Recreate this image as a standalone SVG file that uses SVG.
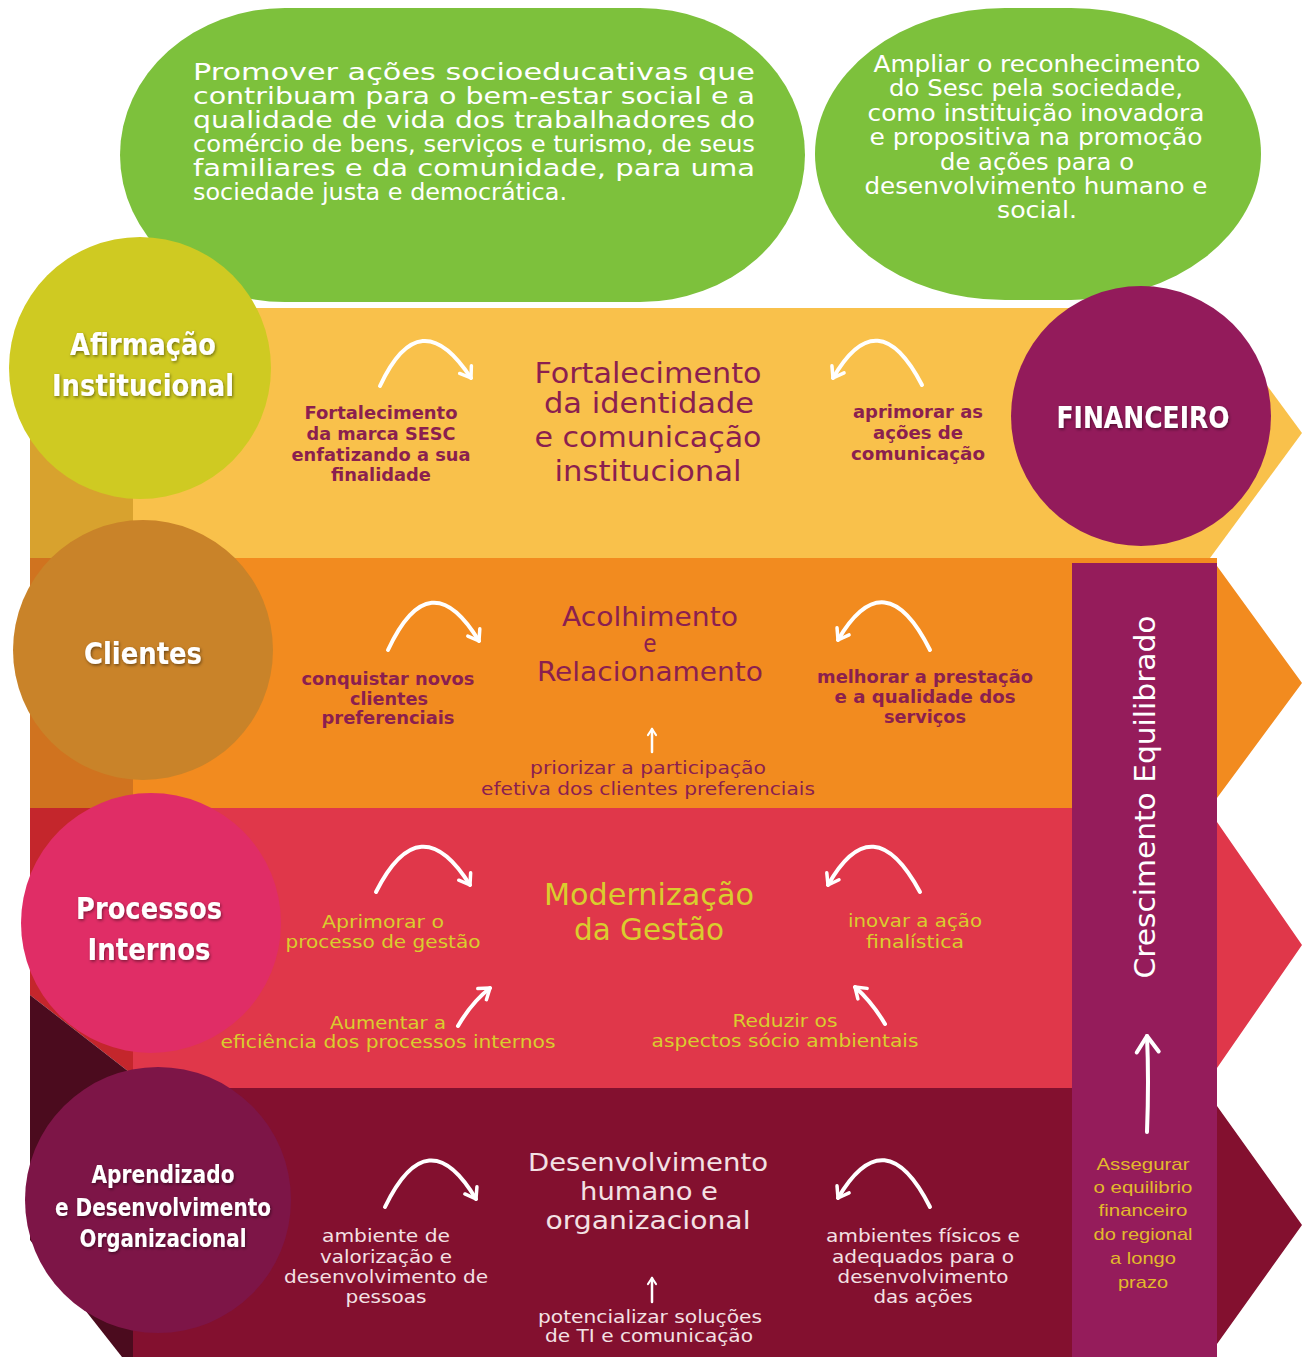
<svg xmlns="http://www.w3.org/2000/svg" width="1309" height="1357" viewBox="0 0 1309 1357">
<defs>
<style>
text{font-family:"DejaVu Sans Condensed","Liberation Sans Narrow",Roboto,"Liberation Sans",sans-serif;font-stretch:condensed}
.g{fill:#fff;font-size:23px}
.lbl{fill:#fff;font-weight:bold;font-size:30px}
.sy{fill:#8b1f4f;font-weight:bold;font-size:18px}
.ty{fill:#8b1f4f;font-size:28px}
.sr{fill:#d9cd2e;font-size:18px}
.tr{fill:#d9cd2e;font-size:30px}
.sd{fill:#f3e1e4;font-size:18px}
.td{fill:#f3e1e4;font-size:25px}
.arr{fill:none;stroke:#fff;stroke-width:4;stroke-linecap:round}
.arrs{fill:none;stroke:#fff;stroke-width:2.5;stroke-linecap:round}
</style>
<marker id="ah" viewBox="0 0 20 20" refX="14" refY="10" markerWidth="20" markerHeight="20" markerUnits="userSpaceOnUse" orient="auto"><path d="M4,3 L14,10 L4,17" fill="none" stroke="#fff" stroke-width="3.5" stroke-linecap="round" stroke-linejoin="round"/></marker>
<marker id="ahs" viewBox="0 0 12 12" refX="9" refY="6" markerWidth="12" markerHeight="12" markerUnits="userSpaceOnUse" orient="auto"><path d="M3,2 L9,6 L3,10" fill="none" stroke="#fff" stroke-width="2.2" stroke-linecap="round" stroke-linejoin="round"/></marker>
<marker id="ahb" viewBox="0 0 30 30" refX="22" refY="15" markerWidth="30" markerHeight="30" markerUnits="userSpaceOnUse" orient="auto"><path d="M6,4 L22,15 L6,26" fill="none" stroke="#fff" stroke-width="4" stroke-linecap="round" stroke-linejoin="round"/></marker>
<filter id="sh" x="-20%" y="-40%" width="140%" height="180%"><feDropShadow dx="1" dy="1.5" stdDeviation="1.5" flood-color="#000" flood-opacity="0.45"/></filter>
</defs>
<rect width="1309" height="1357" fill="#fff"/>

<g id="bands">
<polygon points="133,308 1210,308 1302,433 1210,558 133,558" fill="#f9c14b"/>
<polygon points="133,558 1217,558 1217,566 1302,683 1217,798 1217,808 133,808" fill="#f28b1f"/>
<polygon points="133,808 1217,808 1217,822 1302,945 1217,1068 1217,1088 133,1088" fill="#e0374a"/>
<polygon points="133,1088 1217,1088 1217,1106 1302,1225 1217,1344 1217,1357 133,1357" fill="#83102f"/>
<polygon points="30,308 133,308 133,558 30,558" fill="#d8a22e"/>
<polygon points="30,558 133,558 133,808 30,808" fill="#d0731f"/>
<polygon points="30,808 133,808 133,1075 30,995" fill="#c4262c"/>
<polygon points="30,995 133,1075 133,1357 122,1357 30,1240" fill="#4b0b1e"/>
</g>

<g id="mission">
<rect x="120" y="8" width="685" height="294" rx="165" ry="147" fill="#7dc13c"/>
<text class="g" x="193" y="80" textLength="562" lengthAdjust="spacingAndGlyphs">Promover ações socioeducativas que</text>
<text class="g" x="193" y="104" textLength="562" lengthAdjust="spacingAndGlyphs">contribuam para o bem-estar social e a</text>
<text class="g" x="193" y="128" textLength="562" lengthAdjust="spacingAndGlyphs">qualidade de vida dos trabalhadores do</text>
<text class="g" x="193" y="152" textLength="562" lengthAdjust="spacingAndGlyphs">comércio de bens, serviços e turismo, de seus</text>
<text class="g" x="193" y="176" textLength="562" lengthAdjust="spacingAndGlyphs">familiares e da comunidade, para uma</text>
<text class="g" x="193" y="200" textLength="374" lengthAdjust="spacingAndGlyphs">sociedade justa e democrática.</text>
</g>

<g id="vision">
<rect x="815" y="8" width="446" height="292" rx="190" ry="146" fill="#7dc13c"/>
<text class="g" text-anchor="middle" x="1037" y="72" textLength="327" lengthAdjust="spacingAndGlyphs">Ampliar o reconhecimento</text>
<text class="g" text-anchor="middle" x="1036" y="96" textLength="294" lengthAdjust="spacingAndGlyphs">do Sesc pela sociedade,</text>
<text class="g" text-anchor="middle" x="1036" y="121" textLength="337" lengthAdjust="spacingAndGlyphs">como instituição inovadora</text>
<text class="g" text-anchor="middle" x="1036" y="145" textLength="333" lengthAdjust="spacingAndGlyphs">e propositiva na promoção</text>
<text class="g" text-anchor="middle" x="1037" y="170" textLength="194" lengthAdjust="spacingAndGlyphs">de ações para o</text>
<text class="g" text-anchor="middle" x="1036" y="194" textLength="343" lengthAdjust="spacingAndGlyphs">desenvolvimento humano e</text>
<text class="g" text-anchor="middle" x="1037" y="218" textLength="80" lengthAdjust="spacingAndGlyphs">social.</text>
</g>

<g id="crescimento">
<rect x="1072" y="563" width="145" height="794" fill="#951c5b"/>
<text transform="translate(1155,797) rotate(-90)" text-anchor="middle" fill="#fff" font-size="29" textLength="363" lengthAdjust="spacingAndGlyphs">Crescimento Equilibrado</text>
<g font-size="17" fill="#e2b92c" text-anchor="middle">
<text x="1143" y="1170" style="font-family:'Liberation Sans',Arial,sans-serif;font-stretch:normal" textLength="93" lengthAdjust="spacingAndGlyphs">Assegurar</text>
<text x="1143" y="1193" style="font-family:'Liberation Sans',Arial,sans-serif;font-stretch:normal" textLength="99" lengthAdjust="spacingAndGlyphs">o equilibrio</text>
<text x="1143" y="1216" style="font-family:'Liberation Sans',Arial,sans-serif;font-stretch:normal" textLength="89" lengthAdjust="spacingAndGlyphs">financeiro</text>
<text x="1143" y="1240" style="font-family:'Liberation Sans',Arial,sans-serif;font-stretch:normal" textLength="99" lengthAdjust="spacingAndGlyphs">do regional</text>
<text x="1143" y="1264" style="font-family:'Liberation Sans',Arial,sans-serif;font-stretch:normal" textLength="66" lengthAdjust="spacingAndGlyphs">a longo</text>
<text x="1143" y="1288" style="font-family:'Liberation Sans',Arial,sans-serif;font-stretch:normal" textLength="50" lengthAdjust="spacingAndGlyphs">prazo</text>
</g>
</g>

<g id="afirmacao">
<circle cx="140" cy="368" r="131" fill="#cfca22"/>
<text class="lbl" filter="url(#sh)" text-anchor="middle" x="143" y="355" textLength="146" lengthAdjust="spacingAndGlyphs">Afirmação</text>
<text class="lbl" filter="url(#sh)" text-anchor="middle" x="143" y="396" textLength="182" lengthAdjust="spacingAndGlyphs">Institucional</text>
</g>
<g id="clientes">
<circle cx="143" cy="650" r="130" fill="#c98329"/>
<text class="lbl" filter="url(#sh)" text-anchor="middle" x="143" y="664" textLength="118" lengthAdjust="spacingAndGlyphs">Clientes</text>
</g>
<g id="processos">
<circle cx="151" cy="923" r="130" fill="#e02d66"/>
<text class="lbl" filter="url(#sh)" text-anchor="middle" x="149" y="919" textLength="146" lengthAdjust="spacingAndGlyphs">Processos</text>
<text class="lbl" filter="url(#sh)" text-anchor="middle" x="149" y="960" textLength="123" lengthAdjust="spacingAndGlyphs">Internos</text>
</g>
<g id="aprendizado">
<circle cx="158" cy="1200" r="133" fill="#7d1547"/>
<text class="lbl" filter="url(#sh)" style="font-size:24px" text-anchor="middle" x="163" y="1183" textLength="143" lengthAdjust="spacingAndGlyphs">Aprendizado</text>
<text class="lbl" filter="url(#sh)" style="font-size:24px" text-anchor="middle" x="163" y="1216" textLength="216" lengthAdjust="spacingAndGlyphs">e Desenvolvimento</text>
<text class="lbl" filter="url(#sh)" style="font-size:24px" text-anchor="middle" x="163" y="1247" textLength="167" lengthAdjust="spacingAndGlyphs">Organizacional</text>
</g>
<g id="financeiro">
<circle cx="1141" cy="416" r="130" fill="#931b5b"/>
<text class="lbl" filter="url(#sh)" text-anchor="middle" x="1143" y="428" textLength="173" lengthAdjust="spacingAndGlyphs">FINANCEIRO</text>
</g>

<g id="yellow-texts">
<text class="sy" text-anchor="middle" x="381" y="419" textLength="153" lengthAdjust="spacingAndGlyphs">Fortalecimento</text>
<text class="sy" text-anchor="middle" x="381" y="440" textLength="149" lengthAdjust="spacingAndGlyphs">da marca SESC</text>
<text class="sy" text-anchor="middle" x="381" y="461" textLength="179" lengthAdjust="spacingAndGlyphs">enfatizando a sua</text>
<text class="sy" text-anchor="middle" x="381" y="481" textLength="100" lengthAdjust="spacingAndGlyphs">finalidade</text>
<text class="ty" text-anchor="middle" x="648" y="383" textLength="227" lengthAdjust="spacingAndGlyphs">Fortalecimento</text>
<text class="ty" text-anchor="middle" x="649" y="413" textLength="210" lengthAdjust="spacingAndGlyphs">da identidade</text>
<text class="ty" text-anchor="middle" x="648" y="447" textLength="227" lengthAdjust="spacingAndGlyphs">e comunicação</text>
<text class="ty" text-anchor="middle" x="648" y="481" textLength="187" lengthAdjust="spacingAndGlyphs">institucional</text>
<text class="sy" text-anchor="middle" x="918" y="418" textLength="130" lengthAdjust="spacingAndGlyphs">aprimorar as</text>
<text class="sy" text-anchor="middle" x="918" y="439" textLength="90" lengthAdjust="spacingAndGlyphs">ações de</text>
<text class="sy" text-anchor="middle" x="918" y="460" textLength="134" lengthAdjust="spacingAndGlyphs">comunicação</text>
</g>

<g id="orange-texts">
<text class="sy" text-anchor="middle" x="388" y="685" textLength="173" lengthAdjust="spacingAndGlyphs">conquistar novos</text>
<text class="sy" text-anchor="middle" x="389" y="705" textLength="78" lengthAdjust="spacingAndGlyphs">clientes</text>
<text class="sy" text-anchor="middle" x="388" y="724" textLength="133" lengthAdjust="spacingAndGlyphs">preferenciais</text>
<text class="ty" style="font-size:27px" text-anchor="middle" x="650" y="626" textLength="176" lengthAdjust="spacingAndGlyphs">Acolhimento</text>
<text class="ty" style="font-size:24px" text-anchor="middle" x="650" y="652">e</text>
<text class="ty" style="font-size:27px" text-anchor="middle" x="650" y="681" textLength="226" lengthAdjust="spacingAndGlyphs">Relacionamento</text>
<text class="sy" style="font-weight:normal" text-anchor="middle" x="648" y="774" textLength="236" lengthAdjust="spacingAndGlyphs">priorizar a participação</text>
<text class="sy" style="font-weight:normal" text-anchor="middle" x="648" y="795" textLength="334" lengthAdjust="spacingAndGlyphs">efetiva dos clientes preferenciais</text>
<text class="sy" text-anchor="middle" x="925" y="683" textLength="216" lengthAdjust="spacingAndGlyphs">melhorar a prestação</text>
<text class="sy" text-anchor="middle" x="925" y="703" textLength="181" lengthAdjust="spacingAndGlyphs">e a qualidade dos</text>
<text class="sy" text-anchor="middle" x="925" y="723" textLength="82" lengthAdjust="spacingAndGlyphs">serviços</text>
</g>

<g id="red-texts">
<text class="sr" text-anchor="middle" x="383" y="928" textLength="122" lengthAdjust="spacingAndGlyphs">Aprimorar o</text>
<text class="sr" text-anchor="middle" x="383" y="948" textLength="195" lengthAdjust="spacingAndGlyphs">processo de gestão</text>
<text class="tr" text-anchor="middle" x="649" y="905" textLength="210" lengthAdjust="spacingAndGlyphs">Modernização</text>
<text class="tr" text-anchor="middle" x="649" y="940" textLength="150" lengthAdjust="spacingAndGlyphs">da Gestão</text>
<text class="sr" text-anchor="middle" x="915" y="927" textLength="134" lengthAdjust="spacingAndGlyphs">inovar a ação</text>
<text class="sr" text-anchor="middle" x="915" y="948" textLength="98" lengthAdjust="spacingAndGlyphs">finalística</text>
<text class="sr" text-anchor="middle" x="388" y="1029" textLength="116" lengthAdjust="spacingAndGlyphs">Aumentar a</text>
<text class="sr" text-anchor="middle" x="388" y="1048" textLength="335" lengthAdjust="spacingAndGlyphs">eficiência dos processos internos</text>
<text class="sr" text-anchor="middle" x="785" y="1027" textLength="105" lengthAdjust="spacingAndGlyphs">Reduzir os</text>
<text class="sr" text-anchor="middle" x="785" y="1047" textLength="267" lengthAdjust="spacingAndGlyphs">aspectos sócio ambientais</text>
</g>

<g id="dark-texts">
<text class="td" text-anchor="middle" x="648" y="1171" textLength="240" lengthAdjust="spacingAndGlyphs">Desenvolvimento</text>
<text class="td" text-anchor="middle" x="649" y="1200" textLength="138" lengthAdjust="spacingAndGlyphs">humano e</text>
<text class="td" text-anchor="middle" x="648" y="1229" textLength="205" lengthAdjust="spacingAndGlyphs">organizacional</text>
<text class="sd" text-anchor="middle" x="386" y="1242" textLength="128" lengthAdjust="spacingAndGlyphs">ambiente de</text>
<text class="sd" text-anchor="middle" x="386" y="1263" textLength="132" lengthAdjust="spacingAndGlyphs">valorização e</text>
<text class="sd" text-anchor="middle" x="386" y="1283" textLength="204" lengthAdjust="spacingAndGlyphs">desenvolvimento de</text>
<text class="sd" text-anchor="middle" x="386" y="1303" textLength="81" lengthAdjust="spacingAndGlyphs">pessoas</text>
<text class="sd" text-anchor="middle" x="923" y="1242" textLength="194" lengthAdjust="spacingAndGlyphs">ambientes físicos e</text>
<text class="sd" text-anchor="middle" x="923" y="1263" textLength="182" lengthAdjust="spacingAndGlyphs">adequados para o</text>
<text class="sd" text-anchor="middle" x="923" y="1283" textLength="171" lengthAdjust="spacingAndGlyphs">desenvolvimento</text>
<text class="sd" text-anchor="middle" x="923" y="1303" textLength="99" lengthAdjust="spacingAndGlyphs">das ações</text>
<text class="sd" text-anchor="middle" x="650" y="1323" textLength="224" lengthAdjust="spacingAndGlyphs">potencializar soluções</text>
<text class="sd" text-anchor="middle" x="649" y="1342" textLength="208" lengthAdjust="spacingAndGlyphs">de TI e comunicação</text>
</g>

<g id="connectors">
<path class="arr" d="M380,386 Q420,300 471,378" marker-end="url(#ah)"/>
<path class="arr" d="M922,385 Q878,300 833,378" marker-end="url(#ah)"/>
<path class="arr" d="M388,650 Q430,560 479,641" marker-end="url(#ah)"/>
<path class="arr" d="M930,650 Q885,560 838,640" marker-end="url(#ah)"/>
<path class="arr" d="M376,892 Q420,805 470,885" marker-end="url(#ah)"/>
<path class="arr" d="M920,892 Q873,805 828,885" marker-end="url(#ah)"/>
<path class="arr" d="M385,1207 Q428,1118 476,1199" marker-end="url(#ah)"/>
<path class="arr" d="M930,1207 Q885,1118 838,1198" marker-end="url(#ah)"/>
<path class="arrs" d="M652,752 L652,729" marker-end="url(#ahs)"/>
<path class="arr" d="M458,1026 Q472,1002 490,988" marker-end="url(#ah)"/>
<path class="arr" d="M885,1024 Q872,1002 855,987" marker-end="url(#ah)"/>
<path class="arrs" d="M652,1302 L652,1278" marker-end="url(#ahs)"/>
<path class="arr" d="M1147,1132 Q1149,1080 1147,1036" marker-end="url(#ahb)"/>
</g>
</svg>
